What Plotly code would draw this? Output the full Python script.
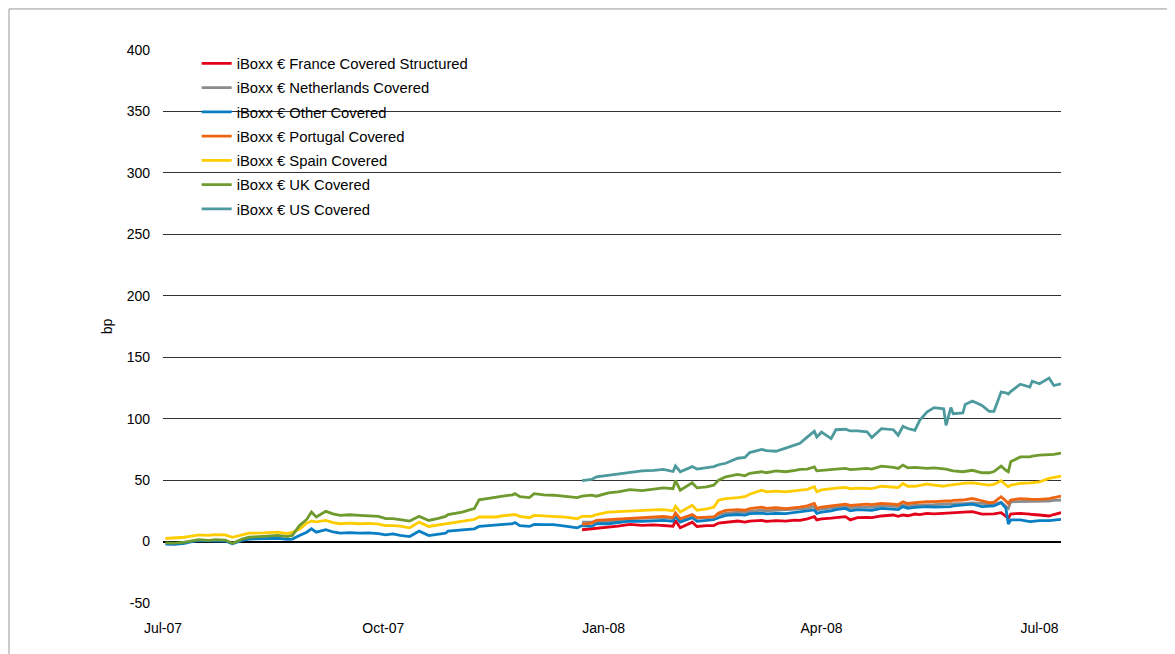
import plotly.graph_objects as go

# ---- dates (early part: only Other, Spain, UK exist) ----
dates_a = ["2007-07-02","2007-07-06","2007-07-10","2007-07-13","2007-07-16","2007-07-20","2007-07-23",
           "2007-07-27","2007-07-30","2007-08-03","2007-08-06","2007-08-12","2007-08-18","2007-08-22",
           "2007-08-24","2007-08-27","2007-08-30","2007-09-01","2007-09-03","2007-09-07","2007-09-10",
           "2007-09-13","2007-09-17","2007-09-21","2007-09-25","2007-09-29","2007-10-02","2007-10-05",
           "2007-10-08","2007-10-12","2007-10-16","2007-10-20","2007-10-24","2007-10-27","2007-10-28",
           "2007-10-31","2007-11-03","2007-11-06","2007-11-08","2007-11-10","2007-11-13","2007-11-17",
           "2007-11-20","2007-11-24","2007-11-25","2007-11-27","2007-12-01","2007-12-03","2007-12-07",
           "2007-12-11","2007-12-16","2007-12-21"]
# ---- dates (late part: all series) ----
dates_b = ["2007-12-23","2007-12-27","2007-12-29","2008-01-03","2008-01-07","2008-01-12","2008-01-17",
           "2008-01-22","2008-01-26","2008-01-30","2008-01-31","2008-02-02","2008-02-07","2008-02-09",
           "2008-02-13","2008-02-16","2008-02-18","2008-02-21","2008-02-26","2008-02-29","2008-03-02",
           "2008-03-07","2008-03-09","2008-03-13","2008-03-17","2008-03-21","2008-03-23","2008-03-26",
           "2008-03-29","2008-03-30","2008-04-01","2008-04-05","2008-04-07","2008-04-11","2008-04-13",
           "2008-04-16","2008-04-20","2008-04-22","2008-04-26","2008-05-01","2008-05-03","2008-05-05",
           "2008-05-07","2008-05-10","2008-05-12","2008-05-15","2008-05-18","2008-05-22","2008-05-23",
           "2008-05-25","2008-05-26","2008-05-30","2008-05-31","2008-06-03","2008-06-07","2008-06-10",
           "2008-06-12","2008-06-15","2008-06-17","2008-06-18","2008-06-19","2008-06-23","2008-06-27",
           "2008-06-28","2008-07-01","2008-07-05","2008-07-07","2008-07-10"]

uk_a = [-1, -1.2, -0.5, 0.8, 1.6, 1.0, 1.5, 1.2, -1.4, 2.0, 3.5, 4.2, 5.0, 4.0, 5.0, 13, 18, 24, 20, 24.6,
        22.5, 21.3, 21.8, 21.3, 21.0, 20.5, 18.6, 18.6, 17.8, 16.7, 20.5, 17.2, 18.8, 20.5, 22, 23, 24, 25.8,
        26.8, 34, 35, 36.3, 37, 38, 39, 36.5, 35.8, 39, 38, 37.7, 36.8, 35.8]
spain_a = [2.5, 2.8, 3.5, 4.5, 5.5, 5.0, 5.6, 5.4, 3.5, 5.5, 6.8, 7.0, 7.6, 6.5, 7.6, 10, 15, 16.7, 16, 17.2,
           15.5, 14.5, 15.0, 14.5, 14.8, 14.2, 13, 13, 12.5, 11.2, 15.8, 12.3, 13.5, 14.5, 15, 15.8, 16.4, 17.2,
           18, 20, 20, 20, 21, 22, 22, 20.5, 19.4, 21.3, 20.8, 20.5, 19.8, 18.6]
other_a = [-2, -2.2, -1.5, 0, 0.8, 0.5, 0.6, 0.4, -1.8, 1.0, 2.0, 2.5, 2.7, 1.8, 2.0, 5, 7.6, 10.4, 7.6, 9.6,
           7.8, 6.8, 7.2, 6.8, 7.0, 6.5, 5.5, 6.3, 5.0, 4.1, 8.5, 4.9, 6.0, 6.8, 8.5, 9.0, 9.6, 10, 10.4, 12.3,
           12.8, 13, 13.5, 14.5, 15.5, 13, 12.3, 14, 13.8, 13.7, 12.5, 11.2]

uk_b = [36.9, 37.7, 36.9, 39.6, 40.5, 42.3, 41.5, 43, 43.7, 43, 49.5, 41.8, 47.8, 43.7, 44.5, 45.9, 50, 52.7,
        54.6, 53.5, 55.5, 56.8, 56, 57.5, 56.8, 58, 58.7, 59, 60.8, 57.5, 58, 58.6, 59, 59.5, 58.5, 59, 59.5,
        59, 61.4, 60.3, 59.5, 62.2, 60, 60.3, 60, 59.5, 60, 59.5, 59, 58, 57.5, 56.8, 57, 58, 56, 56, 57, 61.4,
        58, 56.8, 64.9, 68.9, 68.9, 69.5, 70.3, 70.5, 71, 72]
spain_b = [20.5, 20.5, 22, 24, 24.5, 24.9, 25.3, 25.8, 26, 25, 28.7, 24, 29.5, 25.4, 26.5, 28, 33.6, 35, 35.8,
           36.5, 38.5, 41.8, 40.5, 41, 40.4, 41.5, 41.8, 42.5, 44.6, 40.5, 42, 43.2, 43.5, 44, 43, 43.5, 43.2,
           43, 45, 44.6, 44, 47.3, 45, 45, 45.5, 46.8, 46, 45, 45.5, 46, 46.5, 47.3, 47.5, 47.8, 46.8, 45.9,
           46.5, 49.5, 46, 44.6, 46, 47.3, 47.8, 48, 48.6, 51.4, 52, 53.2]
other_b = [13, 12.3, 14.5, 14.5, 15.5, 16.7, 16.5, 17, 17.2, 16.5, 20.5, 15.8, 19.4, 16.5, 17.2, 17.8, 19.4,
           21.3, 22, 21.5, 22.7, 23.2, 22.5, 23, 22.7, 23.5, 24, 24.5, 25.7, 23, 24, 25, 26, 27, 25, 26, 25.7,
           25.5, 27, 26.5, 26, 28.4, 27, 27.8, 28, 28.4, 28, 28.4, 28, 28.5, 29, 29.7, 30, 30.5, 28.4, 28.4, 29,
           31.6, 27, 14.3, 17.6, 17.6, 16.2, 16.5, 17, 17, 17.5, 18]
portugal = [14, 15, 17.2, 17.8, 18.5, 19.4, 19.8, 20.2, 20.5, 19.5, 23.2, 18.6, 22, 19.5, 20, 20, 23.2, 25.4,
            26, 25.5, 26.8, 28, 27, 27.5, 26.8, 27.5, 28, 29, 31, 27, 28, 29, 29.5, 30.5, 29.5, 30, 30.5, 30, 31,
            30.5, 30, 32.4, 31, 31.6, 32, 32.4, 32.5, 33.2, 33, 33, 33.5, 33.8, 34, 35, 33.2, 31.6, 32, 36.5, 33,
            31, 33.8, 35, 34.5, 34.5, 34.3, 35, 36, 37]
netherlands = [15.8, 15.8, 16.7, 15.8, 17.5, 18.6, 18.8, 19, 19.5, 18.8, 22, 18, 21.5, 19, 19.5, 20, 22, 23,
               24, 23.8, 24.5, 25.5, 25, 25.5, 25.5, 26, 26.5, 27, 28.5, 25.5, 26.5, 27.5, 28, 28.5, 27.5, 28, 28,
               28, 29, 29, 28.5, 30, 29, 29.5, 29.5, 30, 30, 30.5, 30.5, 30.5, 31, 31, 31, 31.5, 31, 30.5, 30.5, 32,
               29, 27, 32.4, 32.4, 32.4, 32.5, 32.4, 33, 33.5, 33.8]
france = [9.6, 10.4, 10.4, 11.2, 12.5, 13.9, 13.2, 13.5, 13, 12.5, 17.2, 11.2, 15.8, 12.3, 13, 13, 15, 15.8,
          16.7, 15.8, 16.7, 17.2, 16.5, 17, 16.7, 17.5, 17.2, 18.5, 20.3, 17.6, 18.5, 19, 19.5, 20.3, 17.6, 19.5,
          19.7, 19.5, 20.8, 21.6, 20.5, 21.6, 21, 22.4, 22, 23, 22.5, 23, 23, 23, 23, 23.5, 24, 24.3, 22.4, 22.4,
          22.5, 23.5, 20.3, 19, 22.4, 23, 22.4, 22, 21.6, 20.8, 22, 23.5]
us = [49.5, 50.5, 52.7, 54, 55.5, 56.8, 57.5, 58, 58.7, 57, 61.5, 56.8, 61, 59, 60, 61, 62.5, 63.7, 67.8, 68.5,
      72.4, 75, 74, 73.5, 76, 78.5, 80, 85, 89.7, 85, 89, 83.8, 91, 91.4, 90, 90, 89.2, 84.6, 91.9, 91, 86.5,
      93.8, 92, 90.5, 98.6, 105.4, 109, 108, 94.6, 109, 104, 104.6, 111.6, 114.3, 110.8, 106, 106, 121.6, 121,
      120, 122, 128, 125.7, 130.5, 128.4, 133, 127, 128.4]

names = ["iBoxx € France Covered Structured", "iBoxx € Netherlands Covered", "iBoxx € Other Covered",
         "iBoxx € Portugal Covered", "iBoxx € Spain Covered", "iBoxx € UK Covered", "iBoxx € US Covered"]
colors = ["#E2001A", "#8C8C8C", "#0A7EC2", "#EE6411", "#FFCC00", "#6F9A2E", "#4D9A9E"]

tick_vals = ["2007-07-01", "2007-10-01", "2008-01-01", "2008-04-01", "2008-07-01"]
tick_text = ["Jul-07", "Oct-07", "Jan-08", "Apr-08", "Jul-08"]
y_tick_vals = [-50, 0, 50, 100, 150, 200, 250, 300, 350, 400]
y_tick_text = ["-50", "0", "50", "100", "150", "200", "250", "300", "350", "400"]

series = [
    (dates_b, france),
    (dates_b, netherlands),
    (dates_a + dates_b, other_a + other_b),
    (dates_b, portugal),
    (dates_a + dates_b, spain_a + spain_b),
    (dates_a + dates_b, uk_a + uk_b),
    (dates_b, us),
]

fig = go.Figure()
for i, ((xs, ys), name, col) in enumerate(zip(series, names, colors)):
    fig.add_trace(go.Scatter(x=xs, y=ys, name=name, mode="lines", legendgroup=f"g{i}",
                             line=dict(color=col, width=2.8)))

font = "Liberation Sans, Arial, sans-serif"
fig.update_layout(
    width=1175, height=654,
    paper_bgcolor="white", plot_bgcolor="white",
    margin=dict(l=155, r=122, t=42, b=59),
    font=dict(family=font, size=14, color="#000"),
    showlegend=True,
    legend=dict(x=0.0375, y=1.005, xanchor="left", yanchor="top", bgcolor="rgba(0,0,0,0)",
                font=dict(size=14.8), itemwidth=30, tracegroupgap=2),
    xaxis=dict(type="date", range=["2007-07-01", "2008-07-10"], tickvals=tick_vals, ticktext=tick_text,
               showgrid=False, zeroline=False, showline=False, ticks="", ticklabelstandoff=15,
               tickfont=dict(size=14)),
    yaxis=dict(range=[-50, 400], tickvals=y_tick_vals, ticktext=y_tick_text, showgrid=True,
               gridcolor="#333333", gridwidth=1,
               zeroline=True, zerolinecolor="#000", zerolinewidth=2, showline=False, ticks="",
               ticklabelstandoff=12, tickfont=dict(size=14),
               title=dict(text="bp", font=dict(size=14), standoff=10)),
    shapes=[dict(type="rect", xref="paper", yref="paper", x0=-0.1715, x1=1.3, y0=-0.2, y1=1.0742,
                 line=dict(color="#999999", width=1), fillcolor="rgba(0,0,0,0)", layer="below")],
)

fig.write_html("out.html")
